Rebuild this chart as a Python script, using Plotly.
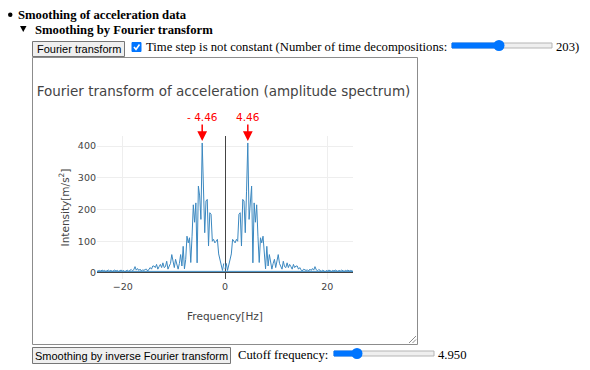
import plotly.graph_objects as go

# ---------------- data ----------------
peak_label = 4.46          # frequency of the marked peaks [Hz]
peak_index = 18            # index of that peak in the FFT grid
n_decomp = 203             # number of time decompositions
cutoff_label = "4.950"

# amplitude for k = 0 .. 101 (positive frequencies); spectrum is symmetric
amp_pos = [12, 30, 8, 25, 40, 60, 106, 100, 95, 106,
           100, 185, 190, 85, 232, 227, 127, 258, 410, 169,
           243, 274, 32, 221, 160, 215, 116, 33, 111, 95,
           116, 43, 13, 84, 22, 58, 30, 12, 30, 43,
           17, 35, 58, 30, 22, 12, 37, 20, 17, 32,
           17, 27, 20, 12, 27, 17, 22, 22, 12, 17,
           10, 6, 12, 11, 8, 10, 6, 12, 8, 14,
           9, 20, 10, 7, 11, 8, 5, 9, 6, 4,
           8, 6, 9, 7, 5, 8, 6, 9, 7, 5,
           8, 6, 9, 7, 5, 8, 7, 9, 6, 8,
           6, 5]

x_ticks = [-20, 0, 20]
y_ticks = [0, 100, 200, 300, 400]

# ---------------- build FFT-ordered series ----------------
df = peak_label / peak_index
n_half = len(amp_pos) - 1
freq = [k * df for k in range(0, n_half + 1)] + [-(n_half - i) * df for i in range(n_half)]
amp = list(amp_pos) + [amp_pos[n_half - i] for i in range(n_half)]

# ---------------- geometry ----------------
W, H = 590, 370
L, R, T, B = 97, 353, 136, 279


def px(x):
    return (x - L) / (R - L)


def py(y):
    return (B - y) / (B - T)


fig = go.Figure()
fig.add_trace(go.Scatter(x=freq, y=amp, mode="lines",
                         line=dict(color="#3b88c0", width=1),
                         hoverinfo="x+y", showlegend=False))

chart_font = "DejaVu Sans"
serif = "Liberation Serif"
sans = "Liberation Sans"
serif_size = 12.7

shapes = []
annos = []


def text(x, y, s, size=serif_size, family=serif, color="black", anchor="left", bold=False):
    if bold:
        s = "<b>" + s + "</b>"
    annos.append(dict(x=px(x), y=py(y), xref="paper", yref="paper", text=s,
                      showarrow=False, xanchor=anchor, yanchor="middle",
                      font=dict(family=family, size=size, color=color), borderpad=0))


def rect(x0, y0, x1, y1, fill, line, lw=1):
    shapes.append(dict(type="rect", xref="paper", yref="paper",
                       x0=px(x0), x1=px(x1), y0=py(y0), y1=py(y1),
                       fillcolor=fill, line=dict(color=line, width=lw), layer="above"))


def button(x0, y0, x1, y1, label):
    rect(x0, y0, x1, y1, "#efefef", "#767676")
    text((x0 + x1) / 2, (y0 + y1) / 2, label, size=11, family=sans, anchor="center")


def slider(x0, x1, y, pos):
    rect(x0, y - 2.5, x1, y + 2.5, "#efefef", "#b5b5b5")
    rect(x0, y - 2.5, pos, y + 2.5, "#0075ff", "#0075ff")
    shapes.append(dict(type="circle", xref="paper", yref="paper",
                       x0=px(pos - 5.5), x1=px(pos + 5.5), y0=py(y - 5.5), y1=py(y + 5.5),
                       fillcolor="#0075ff", line=dict(color="#0075ff", width=0), layer="above"))


# page header
shapes.append(dict(type="circle", xref="paper", yref="paper",
                   x0=px(8), x1=px(12.5), y0=py(12.5), y1=py(17),
                   fillcolor="black", line=dict(width=0), layer="above"))
text(17, 14.5, "Smoothing of acceleration data", bold=True)
shapes.append(dict(type="path", xref="paper", yref="paper",
                   path=f"M {px(20)} {py(26)} L {px(26.5)} {py(26)} L {px(23.25)} {py(32)} Z",
                   fillcolor="black", line=dict(width=0), layer="above"))
text(34, 29.5, "Smoothing by Fourier transform", bold=True)

button(32.5, 41.5, 124.5, 56.5, "Fourier transform")
# checkbox
rect(132, 42.5, 141, 51.5, "#0075ff", "#0075ff")
shapes.append(dict(type="path", xref="paper", yref="paper",
                   path=f"M {px(134)} {py(47)} L {px(136)} {py(49.5)} L {px(139.5)} {py(44.5)}",
                   line=dict(color="white", width=1.6), layer="above"))
text(145, 47.5, "Time step is not constant (Number of time decompositions:")
slider(452, 552, 45.5, 499)
text(555, 47.5, f"{n_decomp})")

# chart box
rect(32.5, 57.5, 417.5, 344.5, "rgba(0,0,0,0)", "#8c8c8c")
for a, b in [((409, 343), (416, 336)), ((412.5, 343), (416, 339.5))]:
    shapes.append(dict(type="line", xref="paper", yref="paper",
                       x0=px(a[0]), y0=py(a[1]), x1=px(b[0]), y1=py(b[1]),
                       line=dict(color="#8c8c8c", width=1), layer="above"))

button(32.5, 347.5, 230.5, 363.5, "Smoothing by inverse Fourier transform")
text(237, 355, "Cutoff frequency:")
slider(334, 434, 353.5, 357)
text(437, 355, cutoff_label)

# peak markers
peak_amp = max(amp)
for xv, lab in [(-peak_label, f"- {peak_label:.2f}"), (peak_label, f"{peak_label:.2f}")]:
    annos.append(dict(x=xv, y=peak_amp, xref="x", yref="y", text=lab,
                      showarrow=True, arrowhead=2, arrowsize=1.3, arrowwidth=1.5,
                      arrowcolor="red", ax=0, ay=-26, standoff=2,
                      font=dict(family=chart_font, size=10.5, color="red")))

fig.update_layout(
    width=W, height=H, autosize=False,
    margin=dict(l=L, r=W - R, t=T, b=H - B, pad=0),
    paper_bgcolor="white", plot_bgcolor="white",
    font=dict(family=chart_font, color="#444", size=9.5),
    title=dict(text="Fourier transform of acceleration (amplitude spectrum)",
               x=px(223.5), xref="paper", xanchor="center",
               y=1 - 91.5 / H, yref="container", yanchor="middle",
               font=dict(size=13.5, color="#444", family=chart_font)),
    xaxis=dict(range=[-n_half * df, n_half * df], tickvals=x_ticks,
               ticktext=["\u221220", "0", "20"],
               showgrid=True, gridcolor="#eee", zeroline=True, zerolinecolor="#444",
               zerolinewidth=1, showline=False, ticks="", automargin=True,
               title=dict(text="Frequency[Hz]", font=dict(size=10.5), standoff=22)),
    yaxis=dict(range=[-19, 432], tickvals=y_ticks,
               showgrid=True, gridcolor="#eee", zeroline=True, zerolinecolor="#444",
               zerolinewidth=1, showline=False, ticks="", automargin=True,
               title=dict(text="Intensity[m/s<sup>2</sup>]", font=dict(size=10.5), standoff=6)),
    shapes=shapes, annotations=annos,
)

fig.write_html("out.html", config={"displayModeBar": False},
               post_script="document.body.style.margin='0';")
